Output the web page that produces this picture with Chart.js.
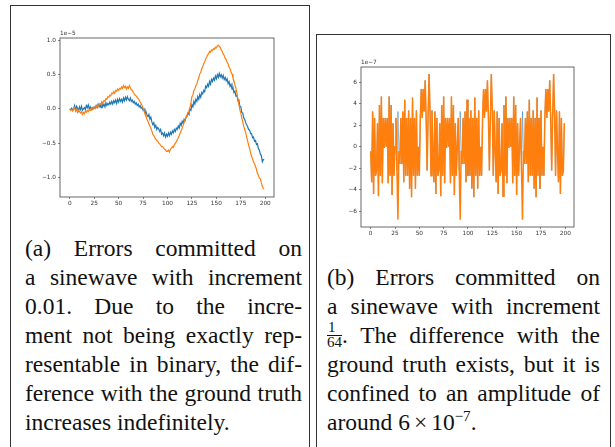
<!DOCTYPE html>
<html>
<head>
<meta charset="utf-8">
<script src="https://cdn.jsdelivr.net/npm/chart.js@4.4.0/dist/chart.umd.min.js"></script>
<style>
  body { margin: 0; width: 615px; height: 447px; overflow: hidden; background: #fff; position: relative;
         font-family: "Liberation Serif", serif; color: #111; }
  .box { position: absolute; border: 1px solid #333; box-sizing: border-box; }
  canvas { position: absolute; }
  .cap { position: absolute; font-size: 23.5px; line-height: 29px; }
  .cap div { height: 29px; white-space: nowrap; text-align: justify; text-align-last: justify; }
  .cap div.last { text-align-last: left; }
  .frac { display: inline-block; vertical-align: -4px; text-align: center; font-size: 15px; line-height: 13px; }
  .frac .num { display: block; border-bottom: 1px solid #111; padding: 0 1px 1px; }
  .frac .den { display: block; }
  sup { font-size: 15px; vertical-align: 9px; line-height: 0; }
  .op { margin: 0 4px; }
</style>
</head>
<body>
<div class="box" style="left:10px;top:5px;width:300px;height:460px"></div>
<div class="box" style="left:316px;top:34px;width:295px;height:430px"></div>

<canvas id="chartA" width="265" height="190" style="left:20px;top:25px"></canvas>
<canvas id="chartB" width="260" height="190" style="left:325px;top:55px"></canvas>

<div class="cap" style="left:25px;top:234px;width:277px">
  <div>(a) Errors committed on</div>
  <div>a sinewave with increment</div>
  <div>0.01. Due to the incre-</div>
  <div>ment not being exactly rep-</div>
  <div>resentable in binary, the dif-</div>
  <div>ference with the ground truth</div>
  <div class="last">increases indefinitely.</div>
</div>
<div class="cap" style="left:327px;top:263px;width:273px">
  <div>(b) Errors committed on</div>
  <div>a sinewave with increment</div>
  <div><span class="frac"><span class="num">1</span><span class="den">64</span></span>. The difference with the</div>
  <div>ground truth exists, but it is</div>
  <div>confined to an amplitude of</div>
  <div class="last">around 6<span class="op">×</span>10<sup>−7</sup>.</div>
</div>

<script>
// (a) increment 0.01, values in units of 1e-5
const aBlue = [
  0.00, -0.01, 0.01, -0.02, 0.00, 0.05, -0.02, 0.04, 0.01, -0.03, 0.03, -0.01, 0.04, -0.02, 0.00, 0.02, -0.01, 0.05, 0.02, 0.06,
  0.00, 0.03, -0.01, 0.02, 0.00, 0.03, 0.01, 0.05, 0.02, 0.07, 0.03, 0.06, 0.02, 0.08, 0.04, 0.07, 0.03, 0.09, 0.05, 0.08,
  0.06, 0.10, 0.07, 0.11, 0.07, 0.12, 0.09, 0.13, 0.08, 0.14, 0.10, 0.15, 0.11, 0.14, 0.10, 0.16, 0.12, 0.17, 0.13, 0.18,
  0.14, 0.12, 0.16, 0.11, 0.13, 0.09, 0.11, 0.07, 0.09, 0.05, 0.07, 0.03, 0.05, 0.01, 0.02, -0.02, 0.00, -0.06, -0.04, -0.09,
  -0.11, -0.08, -0.15, -0.12, -0.19, -0.23, -0.20, -0.27, -0.24, -0.30, -0.27, -0.29, -0.33, -0.30, -0.37, -0.35, -0.39, -0.35, -0.41, -0.37,
  -0.40, -0.35, -0.39, -0.34, -0.37, -0.32, -0.35, -0.30, -0.33, -0.28, -0.30, -0.25, -0.28, -0.21, -0.24, -0.18, -0.21, -0.15, -0.17, -0.12,
  -0.11, -0.06, -0.08, 0.00, -0.02, 0.06, 0.03, 0.11, 0.07, 0.14, 0.11, 0.18, 0.14, 0.21, 0.17, 0.24, 0.22, 0.27, 0.25, 0.33,
  0.31, 0.36, 0.33, 0.40, 0.36, 0.43, 0.40, 0.45, 0.42, 0.48, 0.44, 0.50, 0.46, 0.52, 0.47, 0.50, 0.45, 0.49, 0.43, 0.46,
  0.41, 0.44, 0.37, 0.40, 0.33, 0.36, 0.29, 0.31, 0.24, 0.26, 0.19, 0.20, 0.12, 0.13, 0.04, 0.03, -0.05, -0.06, -0.13, -0.15,
  -0.20, -0.23, -0.26, -0.30, -0.31, -0.36, -0.36, -0.42, -0.41, -0.47, -0.46, -0.52, -0.51, -0.58, -0.60, -0.66, -0.68, -0.77, -0.74, -0.74
];
const aOrange = [
  0.00, -0.02, -0.01, -0.03, 0.00, 0.02, -0.03, -0.01, -0.05, -0.02, -0.04, -0.06, -0.04, -0.08, -0.05, -0.07, -0.03, -0.05, -0.02, -0.04,
  -0.01, -0.02, 0.01, -0.01, 0.02, 0.01, 0.03, 0.02, 0.05, 0.04, 0.06, 0.08, 0.07, 0.10, 0.09, 0.12, 0.11, 0.15, 0.14, 0.18,
  0.17, 0.20, 0.19, 0.23, 0.22, 0.25, 0.23, 0.27, 0.26, 0.29, 0.27, 0.30, 0.29, 0.32, 0.30, 0.34, 0.31, 0.33, 0.29, 0.32,
  0.30, 0.34, 0.31, 0.28, 0.27, 0.24, 0.22, 0.20, 0.19, 0.17, 0.15, 0.13, 0.10, 0.08, 0.05, 0.01, -0.03, -0.07, -0.11, -0.15,
  -0.18, -0.22, -0.25, -0.28, -0.32, -0.37, -0.39, -0.42, -0.44, -0.46, -0.47, -0.50, -0.51, -0.53, -0.55, -0.55, -0.57, -0.59, -0.60, -0.62,
  -0.62, -0.60, -0.63, -0.59, -0.57, -0.55, -0.56, -0.52, -0.50, -0.48, -0.45, -0.42, -0.39, -0.35, -0.32, -0.28, -0.24, -0.20, -0.16, -0.12,
  -0.09, -0.05, -0.02, 0.02, 0.09, 0.18, 0.20, 0.27, 0.29, 0.34, 0.36, 0.42, 0.45, 0.51, 0.53, 0.59, 0.61, 0.66, 0.68, 0.73,
  0.75, 0.79, 0.80, 0.84, 0.83, 0.86, 0.85, 0.88, 0.87, 0.90, 0.89, 0.92, 0.93, 0.91, 0.90, 0.86, 0.84, 0.80, 0.78, 0.74,
  0.72, 0.68, 0.66, 0.61, 0.59, 0.54, 0.51, 0.45, 0.41, 0.35, 0.30, 0.23, 0.15, 0.07, -0.01, -0.06, -0.13, -0.19, -0.25, -0.30,
  -0.35, -0.41, -0.47, -0.53, -0.58, -0.64, -0.69, -0.73, -0.77, -0.80, -0.84, -0.88, -0.94, -0.97, -1.01, -1.02, -1.08, -1.13, -1.16, -1.17
];
const aYTicks = [-1, -0.5, 0, 0.5, 1];
const aYTickLabels = ['−1.0', '−0.5', '0.0', '0.5', '1.0'];

// (b) increment 1/64, values in units of 1e-7
const bBlue = [
  -0.4, -3.3, 3.3, -4.4, 2.7, -2.7, -2.2, 2.2, -4.6, 3.9, -2.7, 4.7, -3.4, 2.7, -0.1, 2.7, 0.0, 2.7, -3.4, 4.7,
  -2.7, 3.9, -4.5, 2.2, -2.7, 0.0, 2.7, -2.2, 3.3, -0.4, -1.6, 2.7, -1.6, 3.3, -3.3, 4.4, -2.7, 2.7, -2.7, 3.4,
  -3.9, 2.7, -4.7, 4.6, -2.7, 2.7, -3.9, 3.4, -2.7, 0.0, -2.7, 2.7, 5.4, 2.7, 5.4, 3.3, 6.2, 2.7, -2.2, 2.8,
  6.8, 3.3, -2.7, 3.4, -0.4, -3.3, 3.3, -4.4, 2.7, -2.7, -2.2, 2.2, -4.6, 3.9, -2.7, 4.7, -3.4, 2.7, -0.1, 2.7,
  0.0, 2.7, -3.4, 4.7, -2.7, 3.9, -4.5, 2.2, -2.7, 0.0, 2.7, -2.2, 3.3, -0.4, -1.6, 2.7, -1.6, 3.3, -3.3, 4.4,
  -2.7, 2.7, -2.7, 3.4, -3.9, 2.7, -4.7, 4.6, -2.7, 2.7, -3.9, 3.4, -2.7, 0.0, -2.7, 2.7, 5.4, 2.7, 5.4, 3.3,
  6.2, 2.7, -2.2, 2.8, 6.8, 3.3, -2.7, 3.4, -0.4, -3.3, 3.3, -4.4, 2.7, -2.7, -2.2, 2.2, -4.6, 3.9, -2.7, 4.7,
  -3.4, 2.7, -0.1, 2.7, 0.0, 2.7, -3.4, 4.7, -2.7, 3.9, -4.5, 2.2, -2.7, 0.0, 2.7, -2.2, 3.3, -0.4, -1.6, 2.7,
  -1.6, 3.3, -3.3, 4.4, -2.7, 2.7, -2.7, 3.4, -3.9, 2.7, -4.7, 4.6, -2.7, 2.7, -3.9, 3.4, -2.7, 0.0, -2.7, 2.7,
  5.4, 2.7, 5.4, 3.3, 6.2, 2.7, -2.2, 2.8, 6.8, 3.3, -2.7, 3.4, -0.4, -3.3, 3.3, -4.4, 2.7, -2.7, -2.2, 2.2
];
const bOrange = [
  -0.4, -3.3, 3.3, -4.4, 2.7, -2.7, -2.2, 2.2, -4.6, 3.9, -2.7, 4.7, -3.4, 2.7, -0.1, 2.7, 0.0, 2.7, -3.4, 4.7,
  -2.7, 3.9, -4.5, 2.2, -2.7, 0.0, 2.7, -2.2, -6.8, -0.4, -1.6, 2.7, -1.6, 3.3, -3.3, 4.4, -2.7, 2.7, -2.7, 3.4,
  -3.9, 2.7, -4.7, 4.6, -2.7, 2.7, -3.9, 3.4, -2.7, 0.0, -2.7, 2.7, 5.4, 2.7, 5.4, 3.3, 6.2, 2.7, -2.2, 2.8,
  6.8, 3.3, -2.7, 3.4, -0.4, -3.3, 3.3, -4.4, 2.7, -2.7, -2.2, 2.2, -4.6, 3.9, -2.7, 4.7, -3.4, 2.7, -0.1, 2.7,
  0.0, 2.7, -3.4, 4.7, -2.7, 3.9, -4.5, 2.2, -2.7, 0.0, 2.7, -2.2, -6.8, -0.4, -1.6, 2.7, -1.6, 3.3, -3.3, 4.4,
  -2.7, 2.7, -2.7, 3.4, -3.9, 2.7, -4.7, 4.6, -2.7, 2.7, -3.9, 3.4, -2.7, 0.0, -2.7, 2.7, 5.4, 2.7, 5.4, 3.3,
  6.2, 2.7, -2.2, 2.8, 6.8, 3.3, -2.7, 3.4, -0.4, -3.3, 3.3, -4.4, 2.7, -2.7, -2.2, 2.2, -4.6, 3.9, -2.7, 4.7,
  -3.4, 2.7, -0.1, 2.7, 0.0, 2.7, -3.4, 4.7, -2.7, 3.9, -4.5, 2.2, -2.7, 0.0, 2.7, -2.2, -6.8, -0.4, -1.6, 2.7,
  -1.6, 3.3, -3.3, 4.4, -2.7, 2.7, -2.7, 3.4, -3.9, 2.7, -4.7, 4.6, -2.7, 2.7, -3.9, 3.4, -2.7, 0.0, -2.7, 2.7,
  5.4, 2.7, 5.4, 3.3, 6.2, 2.7, -2.2, 2.8, 6.8, 3.3, -2.7, 3.4, -0.4, -3.3, 3.3, -4.4, 2.7, -2.7, -2.2, 2.2
];
const bYTicks = [-6, -4, -2, 0, 2, 4, 6];
const bYTickLabels = ['−6', '−4', '−2', '0', '2', '4', '6'];

const xTicks = [0, 25, 50, 75, 100, 125, 150, 175, 200];
const BLUE = '#1f77b4', ORANGE = '#ff7f0e', INK = '#333';

// axes box + matplotlib offset text ("1e-5")
const axesFrame = {
  id: 'axesFrame',
  afterDraw(chart, args, opts) {
    const { ctx, chartArea: a } = chart;
    ctx.save();
    ctx.strokeStyle = '#444';
    ctx.lineWidth = 0.8;
    ctx.strokeRect(a.left, a.top, a.right - a.left, a.bottom - a.top);
    ctx.fillStyle = INK;
    ctx.font = '5.8px "DejaVu Sans"';
    ctx.textBaseline = 'bottom';
    ctx.fillText(opts.offsetText, a.left, a.top - 2);
    ctx.restore();
  }
};

function toPoints(values) {
  return values.map((v, i) => ({ x: i, y: v }));
}

function makeErrorChart(canvasId, blue, orange, yRange, yTicks, yLabels, offsetText, pad, yWidth, lw) {
  const canvas = document.getElementById(canvasId);
  if (!canvas) return null;
  const tickFont = { family: 'DejaVu Sans', size: 5.8 };
  const grid = { display: true, drawOnChartArea: false, drawTicks: true, tickLength: 2, color: INK, lineWidth: 0.6 };
  return new Chart(canvas, {
    type: 'line',
    data: {
      datasets: [
        { data: toPoints(blue), borderColor: BLUE, borderWidth: lw[0], pointRadius: 0, tension: 0, order: 1 },
        { data: toPoints(orange), borderColor: ORANGE, borderWidth: lw[1], pointRadius: 0, tension: 0, order: 0 }
      ]
    },
    options: {
      responsive: false, animation: false, devicePixelRatio: 1,
      layout: { padding: pad },
      plugins: { legend: { display: false }, tooltip: { enabled: false }, axesFrame: { offsetText } },
      scales: {
        x: {
          type: 'linear', min: -9.95, max: 208.95,
          grid, border: { display: false },
          ticks: { font: tickFont, color: INK, padding: 1, maxRotation: 0 },
          afterBuildTicks: s => { s.ticks = xTicks.map(v => ({ value: v })); },
          afterFit: s => { s.height = 18; }
        },
        y: {
          min: yRange[0], max: yRange[1],
          grid, border: { display: false },
          ticks: { font: tickFont, color: INK, padding: 2, callback: v => yLabels[yTicks.indexOf(v)] },
          afterBuildTicks: s => { s.ticks = yTicks.map(v => ({ value: v })); },
          afterFit: s => { s.width = yWidth; }
        }
      }
    },
    plugins: [axesFrame]
  });
}

makeErrorChart('chartA', aBlue, aOrange, [-1.285, 1.035], aYTicks, aYTickLabels, '1e\u22125',
  { top: 13, right: 11, bottom: 0, left: 0 }, 40, [1.2, 1.2]);
makeErrorChart('chartB', bBlue, bOrange, [-7.48, 7.45], bYTicks, bYTickLabels, '1e\u22127',
  { top: 12, right: 11, bottom: 0, left: 0 }, 36, [0.5, 1.5]);
</script>
</body>
</html>
